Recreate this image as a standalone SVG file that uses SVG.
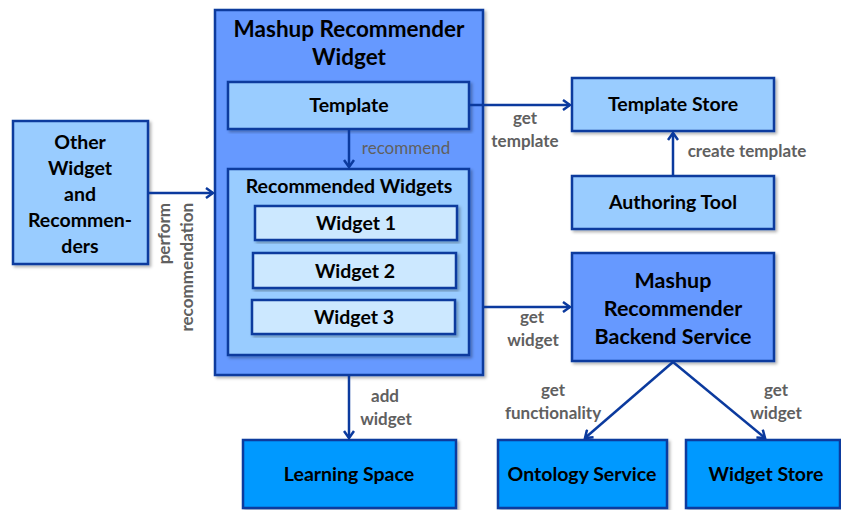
<svg xmlns="http://www.w3.org/2000/svg" width="841" height="510" viewBox="0 0 841 510">
<style>
.b{stroke:#0B3A9E;stroke-width:2.5}
.t{font-family:Lato,"Liberation Sans",sans-serif;font-weight:bold;fill:#000;text-anchor:middle;font-size:19.5px}
.l{font-family:Lato,"Liberation Sans",sans-serif;font-weight:bold;fill:#606060;font-size:17px;text-anchor:middle}
.e{stroke:#0B3A9E;stroke-width:2.5;fill:none;marker-end:url(#a)}
</style>
<defs>
<marker id="a" markerWidth="12" markerHeight="12" refX="9" refY="6" orient="auto" markerUnits="userSpaceOnUse">
<path d="M2,1 L9,6 L2,11" fill="none" stroke="#0B3A9E" stroke-width="2.5"/>
</marker>
<filter id="s" x="-5%" y="-5%" width="115%" height="115%"><feDropShadow dx="2" dy="2" stdDeviation="1.5" flood-color="#000" flood-opacity="0.3"/></filter>
</defs>
<g id="mashup-widget">
<rect class="b" x="215" y="10" width="268" height="365" fill="#6699FF" filter="url(#s)"/>
<text class="t" x="349" y="37" style="font-size:22.5px">Mashup Recommender</text>
<text class="t" x="349" y="65" style="font-size:22.5px">Widget</text>
</g>
<g id="template">
<rect class="b" x="228" y="82" width="241" height="47" fill="#99CCFF" filter="url(#s)"/>
<text class="t" x="349" y="112">Template</text>
</g>
<g id="recommended">
<rect class="b" x="228" y="169" width="241" height="186" fill="#99CCFF" filter="url(#s)"/>
<text class="t" x="349" y="193">Recommended Widgets</text>
</g>
<g id="widget1">
<rect class="b" x="255" y="206" width="202" height="34" fill="#CCE8FF" filter="url(#s)"/>
<text class="t" x="356" y="230">Widget 1</text>
</g>
<g id="widget2">
<rect class="b" x="253" y="253" width="203" height="35" fill="#CCE8FF" filter="url(#s)"/>
<text class="t" x="355" y="278">Widget 2</text>
</g>
<g id="widget3">
<rect class="b" x="252" y="300" width="203" height="34" fill="#CCE8FF" filter="url(#s)"/>
<text class="t" x="354" y="324">Widget 3</text>
</g>
<g id="other">
<rect class="b" x="13" y="121" width="135" height="143" fill="#99CCFF" filter="url(#s)"/>
<text class="t" x="80" y="149">Other</text>
<text class="t" x="80" y="175">Widget</text>
<text class="t" x="80" y="201">and</text>
<text class="t" x="80" y="227">Recommen-</text>
<text class="t" x="80" y="253">ders</text>
</g>
<g id="learning">
<rect class="b" x="243" y="440" width="213" height="68" fill="#0099FF" filter="url(#s)"/>
<text class="t" x="349" y="481">Learning Space</text>
</g>
<g id="template-store">
<rect class="b" x="572" y="78" width="202" height="53" fill="#99CCFF" filter="url(#s)"/>
<text class="t" x="673" y="111">Template Store</text>
</g>
<g id="authoring">
<rect class="b" x="572" y="176" width="202" height="53" fill="#99CCFF" filter="url(#s)"/>
<text class="t" x="673" y="209">Authoring Tool</text>
</g>
<g id="backend">
<rect class="b" x="572" y="253" width="202" height="108" fill="#6699FF" filter="url(#s)"/>
<text class="t" x="673" y="288" style="font-size:21.5px">Mashup</text>
<text class="t" x="673" y="316" style="font-size:21.5px">Recommender</text>
<text class="t" x="673" y="344" style="font-size:21.5px">Backend Service</text>
</g>
<g id="ontology">
<rect class="b" x="498" y="440" width="169" height="68" fill="#0099FF" filter="url(#s)"/>
<text class="t" x="582" y="481">Ontology Service</text>
</g>
<g id="widget-store">
<rect class="b" x="686" y="440" width="154" height="68" fill="#0099FF" filter="url(#s)"/>
<text class="t" x="766" y="481">Widget Store</text>
</g>
<g id="connectors">
<line class="e" x1="349" y1="129" x2="349" y2="167"/>
<text class="l" x="406" y="154" style="font-weight:normal">recommend</text>
<line class="e" x1="148" y1="193" x2="213" y2="193"/>
<text class="l" transform="translate(170,203) rotate(-90)" style="text-anchor:end">perform</text>
<text class="l" transform="translate(193,203) rotate(-90)" style="text-anchor:end">recommendation</text>
<line class="e" x1="349" y1="375" x2="349" y2="438"/>
<text class="l" x="385" y="402">add</text>
<text class="l" x="386" y="425">widget</text>
<line class="e" x1="469" y1="105" x2="570" y2="105"/>
<text class="l" x="525" y="124">get</text>
<text class="l" x="525" y="147">template</text>
<line class="e" x1="673" y1="176" x2="673" y2="133"/>
<text class="l" x="747" y="157">create template</text>
<line class="e" x1="483" y1="307" x2="570" y2="307"/>
<text class="l" x="532" y="323">get</text>
<text class="l" x="533" y="346">widget</text>
<line class="e" x1="673" y1="362" x2="585" y2="438"/>
<text class="l" x="553" y="396">get</text>
<text class="l" x="553" y="419">functionality</text>
<line class="e" x1="673" y1="362" x2="765" y2="438"/>
<text class="l" x="776" y="396">get</text>
<text class="l" x="776" y="419">widget</text>
</g>
</svg>
